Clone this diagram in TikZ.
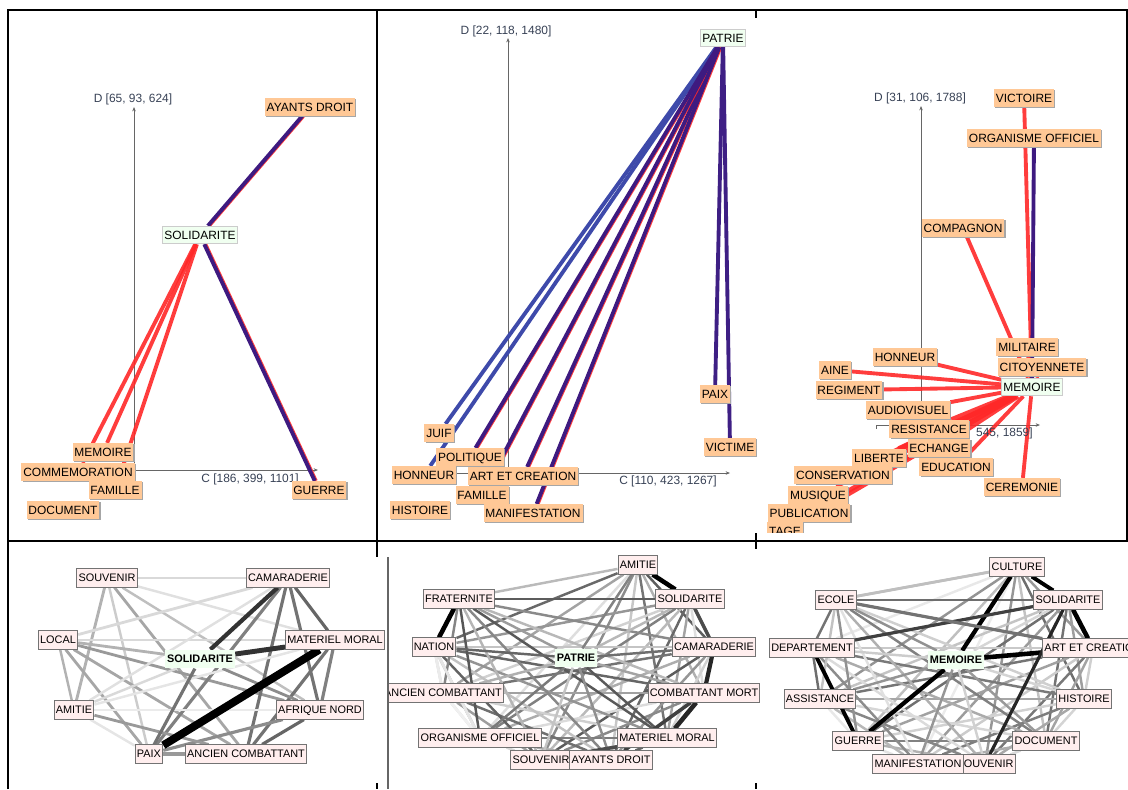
\documentclass[tikz,border=0pt]{standalone}
\usepackage{fontspec}
\setmainfont{Liberation Sans}
\usetikzlibrary{arrows.meta,shadows}
\definecolor{Peach}{RGB}{255,200,150}
\definecolor{Mint}{RGB}{240,255,240}
\definecolor{Blush}{RGB}{255,238,238}
\definecolor{HotRed}{RGB}{255,40,40}
\definecolor{Indigo}{RGB}{62,26,128}
\definecolor{CoolBlue}{RGB}{62,74,170}
\definecolor{AxisInk}{RGB}{55,65,85}
\pgfdeclarelayer{edges}
\pgfsetlayers{edges,main}
\tikzset{
  term/.style={fill=Peach,inner xsep=1.1pt,inner ysep=2.4pt,text height=5pt,text depth=0.2pt,
    font=\fontsize{6.8}{8}\selectfont,
    drop shadow={shadow xshift=0.7pt,shadow yshift=-0.7pt,fill=black!35,opacity=1}},
  pivot/.style={fill=Mint,draw=black!20,line width=0.5pt,inner xsep=1.1pt,inner ysep=2.4pt,
    text height=5pt,text depth=0.2pt,font=\fontsize{6.8}{8}\selectfont},
  word/.style={draw=black!55,fill=Blush,line width=0.6pt,inner xsep=1pt,inner ysep=2.7pt,
    text height=4.7pt,text depth=0.2pt,font=\fontsize{6.2}{7}\selectfont},
  hub/.style={word,draw=none,fill=Mint,font=\fontsize{6.2}{7}\selectfont\bfseries},
  hot/.style={draw=HotRed,line width=2.2pt,opacity=0.9},
  deep/.style={draw=Indigo,line width=2.2pt},
  cool/.style={draw=CoolBlue,line width=2.2pt},
  tie/.style={line width=1.4pt},
  axis/.style={draw=black!60,line width=0.5pt,-{Stealth[length=2.5pt,width=2pt]}},
  axlabel/.style={text=AxisInk,font=\fontsize{6.8}{8}\selectfont,inner sep=0pt},
  frame/.style={line width=1.2pt},
}

\begin{document}
\begin{tikzpicture}[x=0.02cm,y=-0.02cm]
  \useasboundingbox (0,0) rectangle (1128,789);

  % --- top left: SOLIDARITE
  \node[axlabel] (sdlab) at (133,99) {D [65, 93, 624]};
  \node[axlabel,anchor=west] (sclab) at (201,479) {C [186, 399, 1101]};
  \node[term] (sayd) at (310,107) {AYANTS DROIT};
  \node[pivot] (ssol) at (200,235) {SOLIDARITE};
  \node[term] (smem) at (103,452) {MEMOIRE};
  \node[term] (scomm) at (78,472) {COMMEMORATION};
  \node[term] (sfam) at (115,490) {FAMILLE};
  \node[term] (sdoc) at (63,510) {DOCUMENT};
  \node[term] (sguer) at (319,490) {GUERRE};

  % --- top middle: PATRIE
  \node[axlabel] (pdlab) at (506,31) {D [22, 118, 1480]};
  \node[axlabel] (pclab) at (668,481) {C [110, 423, 1267]};
  \node[pivot] (ppat) at (723,38) {PATRIE};
  \node[term] (pjuif) at (439,433) {JUIF};
  \node[term] (ppol) at (470,457) {POLITIQUE};
  \node[term] (phon) at (424,475) {HONNEUR};
  \node[term] (part) at (523,476) {ART ET CREATION};
  \node[term] (pfam) at (482,495) {FAMILLE};
  \node[term] (phist) at (420,510) {HISTOIRE};
  \node[term] (pman) at (533,513) {MANIFESTATION};
  \node[term] (ppaix) at (715,394) {PAIX};
  \node[term] (pvic) at (730,447) {VICTIME};

  % --- top right: MEMOIRE
  \begin{scope}
    \clip (757,12) rectangle (1126,532);
    \node[axlabel] (mdlab) at (920,98) {D [31, 106, 1788]};
    \node[axlabel,anchor=east] (mclab) at (1033,433) {545, 1859]};
    \node[term] (mvic) at (1024,98) {VICTOIRE};
    \node[term] (morg) at (1034,138) {ORGANISME OFFICIEL};
    \node[term] (mcomp) at (963,228) {COMPAGNON};
    \node[term] (mmil) at (1027,347) {MILITAIRE};
    \node[term] (mhon) at (905,357) {HONNEUR};
    \node[term] (mcit) at (1042,367) {CITOYENNETE};
    \node[term] (maine) at (835,370) {AINE};
    \node[pivot] (mmem) at (1032,387) {MEMOIRE};
    \node[term] (mreg) at (849,390) {REGIMENT};
    \node[term] (maud) at (908,410) {AUDIOVISUEL};
    \node[term] (mres) at (929,429) {RESISTANCE};
    \node[term] (mech) at (939,448) {ECHANGE};
    \node[term] (mlib) at (879,458) {LIBERTE};
    \node[term] (medu) at (956,467) {EDUCATION};
    \node[term] (mcons) at (843,475) {CONSERVATION};
    \node[term] (mcer) at (1022,487) {CEREMONIE};
    \node[term] (mmus) at (818,495) {MUSIQUE};
    \node[term] (mpub) at (809,513) {PUBLICATION};
    \node[term] (mtage) at (785,531) {TAGE};
  \end{scope}

  % --- bottom left
  \node[word] (bsouv) at (107,578) {SOUVENIR};
  \node[word] (bcama) at (288,578) {CAMARADERIE};
  \node[word] (blocal) at (58,640) {LOCAL};
  \node[word] (bmat) at (335,640) {MATERIEL MORAL};
  \node[hub] (bsol) at (200,659) {SOLIDARITE};
  \node[word] (bami) at (74,710) {AMITIE};
  \node[word] (bafr) at (320,710) {AFRIQUE NORD};
  \node[word] (bpaix) at (149,754) {PAIX};
  \node[word] (banc) at (246,754) {ANCIEN COMBATTANT};

  % --- bottom middle
  \begin{scope}
    \clip (388,545) rectangle (1128,789);
    \node[word] (bpami) at (638,565) {AMITIE};
    \node[word] (bpfrat) at (459,599) {FRATERNITE};
    \node[word] (bpsol) at (690,599) {SOLIDARITE};
    \node[word] (bpnat) at (434,647) {NATION};
    \node[word] (bpcam) at (714,647) {CAMARADERIE};
    \node[hub] (bpat) at (576,658) {PATRIE};
    \node[word] (bpanc) at (443,693) {ANCIEN COMBATTANT};
    \node[word] (bpmort) at (704,693) {COMBATTANT MORT};
    \node[word] (bporg) at (480,738) {ORGANISME OFFICIEL};
    \node[word] (bpmat) at (667,738) {MATERIEL MORAL};
    \node[word] (bpsouv) at (541,760) {SOUVENIR};
    \node[word] (bpayd) at (611,760) {AYANTS DROIT};
  \end{scope}

  % --- bottom right
  \node[word] (bmcult) at (1017,567) {CULTURE};
  \node[word] (bmecole) at (836,600) {ECOLE};
  \node[word] (bmsol) at (1068,600) {SOLIDARITE};
  \node[word] (bmdep) at (812,648) {DEPARTEMENT};
  \node[word] (bmart) at (1093,648) {ART ET CREATION};
  \node[hub] (bmmem) at (956,660) {MEMOIRE};
  \node[word] (bmass) at (820,699) {ASSISTANCE};
  \node[word] (bmhist) at (1084,699) {HISTOIRE};
  \node[word] (bmguer) at (858,741) {GUERRE};
  \node[word] (bmdoc) at (1046,741) {DOCUMENT};
  \node[word] (bmsouv) at (985,764) {SOUVENIR};
  \node[word] (bmman) at (918,764) {MANIFESTATION};

  % frame
  \draw[frame] (8,789)--(8,10)--(1127,10)--(1127,541);
  \draw[frame] (8,541)--(1128,541);
  \draw[frame] (377,10)--(377,557);
  \draw[frame] (377,783)--(377,789);
  \draw[frame] (756,10)--(756,18);
  \draw[frame] (756,533)--(756,549);
  \draw[frame] (756,783)--(756,789);
  \draw[black!60,line width=0.6pt] (388,557)--(388,789);

  \begin{pgfonlayer}{edges}
    % axes
    \draw[axis] (134,470)--(134,107);
    \draw[axis] (134,470)--(318,470);
    \draw[axis] (508,473)--(508,38);
    \draw[axis] (440,473)--(730,473);
    \draw[axis] (921,425)--(921,106);
    \draw[axis] (876,425)--(1040,425);
    \draw[black!60,line width=0.5pt] (876,425)--(876,429);

    % top left
    \foreach \t in {smem,scomm,sfam}
      \draw[hot] (ssol)--(\t);
    \foreach \t in {sayd,sguer} {
      \draw[hot,transform canvas={xshift=0.6pt}] (ssol)--(\t);
      \draw[deep] (ssol)--(\t);
    }

    % top middle
    \foreach \t in {pjuif,phon}
      \draw[cool] (ppat)--(\t);
    \foreach \t in {ppol,part,pfam,pman} {
      \draw[hot,transform canvas={xshift=0.6pt}] (ppat)--(\t);
      \draw[deep] (ppat)--(\t);
    }
    \foreach \t in {ppaix,pvic}
      \draw[deep,draw=Indigo!90!CoolBlue] (ppat)--(\t);

    % top right
    \begin{scope}
      \clip (757,12) rectangle (1126,532);
      \foreach \t/\w in {mvic/2.2,mcomp/2.2,mmil/2.2,mcit/2.2,mhon/2.2,maine/2.2,mreg/2.2,
          maud/2.2,mres/3,mech/2.6,mlib/3,medu/2.2,mcons/2.6,mcer/2.2,mmus/3,mpub/2.6,mtage/2.6}
        \draw[hot,line width=\w pt] (mmem)--(\t);
      \draw[deep] (mmem)--(morg);
    \end{scope}

    % bottom left
    \foreach \a/\b/\g/\w in {bsouv/bcama/15/1.6,bsouv/bami/30/1.6,bsouv/bmat/12/1.4,bsouv/bafr/25/1.4,
        bsouv/banc/35/1.6,bsouv/bpaix/20/1.4,blocal/bcama/15/1.6,blocal/bmat/15/1.6,blocal/bafr/40/1.6,
        blocal/banc/35/1.6,blocal/bpaix/35/1.6,blocal/bami/30/1.4,bcama/bmat/60/1.8,bcama/bafr/55/1.8,
        bcama/banc/55/1.8,bcama/bpaix/50/1.8,bcama/bami/12/1.4,bmat/bafr/50/1.8,bmat/banc/55/1.8,
        bmat/bami/10/1.4,bafr/bami/8/1.4,bafr/bpaix/45/1.8,bafr/banc/60/1.8,bafr/bsol/45/1.6,
        bami/bpaix/10/1.4,bami/banc/40/1.6,bpaix/banc/40/1.8,bsol/bpaix/55/1.8,bsol/blocal/30/1.6,
        bsol/bami/15/1.4,bcama/bsol/80/2.4,bmat/bsol/80/2.8,bmat/bpaix/100/4.5}
      \draw[tie,black!\g,line width=\w pt] (\a)--(\b);

    % bottom middle
    \def\ringp{bpami,bpsol,bpcam,bpmort,bpmat,bpayd,bpsouv,bporg,bpanc,bpnat,bpfrat}
    \foreach \a [count=\i] in \ringp
      \foreach \b [count=\j] in \ringp {
        \ifnum\j>\i
          \pgfmathtruncatemacro\g{mod(\i*37+\j*23,55)+12}
          \draw[tie,black!\g] (\a)--(\b);
        \fi
      }
    \foreach \a [count=\i] in \ringp {
      \pgfmathtruncatemacro\g{mod(\i*29,50)+20}
      \draw[tie,black!\g] (bpat)--(\a);
    }
    \foreach \a/\b/\g/\w in {bpami/bpsol/100/2.6,bpsol/bpcam/70/2,bpcam/bpmort/85/2.4,
        bpmort/bpmat/85/2.6,bpmort/bpayd/75/2,bpfrat/bpnat/100/2.6,bpmat/bpsouv/70/2,
        bpnat/bpanc/8/1.6,bpanc/bporg/6/1.6,bpnat/bporg/10/1.6}
      \draw[tie,black!\g,line width=\w pt] (\a)--(\b);

    % bottom right
    \def\ringm{bmcult,bmsol,bmart,bmhist,bmdoc,bmsouv,bmman,bmguer,bmass,bmdep,bmecole}
    \foreach \a [count=\i] in \ringm
      \foreach \b [count=\j] in \ringm {
        \ifnum\j>\i
          \pgfmathtruncatemacro\g{mod(\i*31+\j*17,50)+8}
          \draw[tie,black!\g] (\a)--(\b);
        \fi
      }
    \foreach \a [count=\i] in \ringm {
      \pgfmathtruncatemacro\g{mod(\i*23,45)+15}
      \draw[tie,black!\g] (bmmem)--(\a);
    }
    \foreach \a/\b/\g/\w in {bmcult/bmsol/100/2.2,bmsol/bmart/100/2.6,bmmem/bmart/100/2.6,
        bmcult/bmmem/100/2.4,bmmem/bmguer/100/2.4,bmdep/bmguer/100/2.2,bmsol/bmdep/75/1.8,
        bmecole/bmart/55/1.8,bmsol/bmsouv/85/1.8,bmcult/bmecole/25/1.6}
      \draw[tie,black!\g,line width=\w pt] (\a)--(\b);
  \end{pgfonlayer}
\end{tikzpicture}
\end{document}
